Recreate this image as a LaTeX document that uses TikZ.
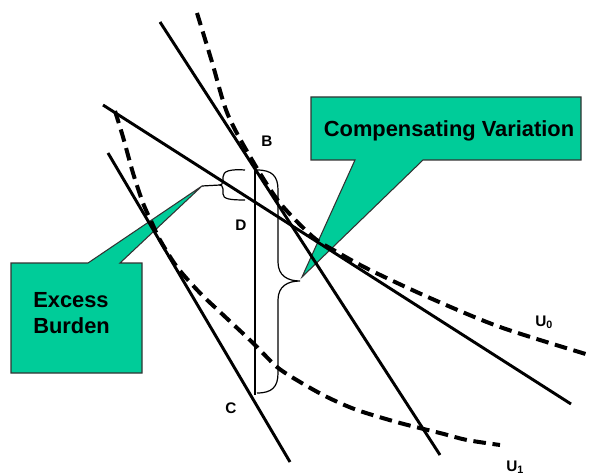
\documentclass[tikz,border=0pt]{standalone}
\usepackage{fontspec}
\setmainfont{Liberation Sans}
\usepackage{tikz}
\usepackage{xcolor}
\definecolor{calloutgreen}{RGB}{0,204,153}

\begin{document}
\begin{tikzpicture}[
        x=0.75pt, y=-0.75pt,
        budget/.style={line width=2.2pt},
        indiff/.style={line width=3pt, dash pattern=on 9.5pt off 5pt},
        thin line/.style={line width=0.9pt},
        bubble/.style={fill=calloutgreen, draw=black!80, line width=0.8pt},
        point label/.style={font=\fontsize{11.5}{13}\selectfont\bfseries},
        bubble text/.style={font=\fontsize{16.4}{19.5}\selectfont\bfseries},
    ]
        \useasboundingbox (0,0) rectangle (589,474);

        \coordinate (eb tip) at (202,186);
        \coordinate (cv tip) at (302,277);
        \coordinate (d tip) at (220,185);

        % callouts
        \draw[bubble] (11,263) -- (88,263) -- (eb tip) -- (120,263) -- (142,263) -- (142,373) -- (11,373) -- cycle;
        \draw[bubble] (311,97) -- (581,97) -- (581,160) -- (423,160) -- (cv tip) -- (355,160) -- (311,160) -- cycle;
        \node[bubble text, anchor=west, align=left, inner sep=0] (excess) at (33,313) {Excess\\Burden};
        \node[bubble text, anchor=base, inner sep=0] (cv) at (449,137) {Compensating Variation};

        % budget lines
        \draw[budget] (160,22) -- (440,455);
        \draw[budget] (103,105) -- (571,404);
        \draw[budget] (108,153) -- (290,462);

        % indifference curves
        \draw[indiff] plot[smooth] coordinates {(197,13) (212,62) (228,115) (255,165) (280,203) (313,237) (337,252) (370,270) (430,298) (500,327) (589,355)};
        \draw[indiff] plot[smooth] coordinates {(115,111) (123,137) (133,173) (143,203) (152,223) (160,240) (177,267) (200,293) (220,312) (253,343) (277,367) (300,382) (327,397) (357,410) (400,423) (440,433) (467,440) (500,445)};

        % B to C and the braces
        \draw[thin line] (255,168) -- (255,395);
        \draw[thin line] (257,170) .. controls (272,170) and (278,176) .. (278,190) -- (278,262)
            .. controls (278,276) and (288,281) .. (300,281) .. controls (288,281) and (278,286) .. (278,300)
            -- (278,373) .. controls (278,387) and (272,393) .. (257,393);
        \draw[thin line] (245,170) .. controls (230,169) and (223,171) .. (223,177) -- (223,181)
            .. controls (223,184) and (221,185) .. (d tip) .. controls (221,185) and (223,186) .. (223,189)
            -- (223,194) .. controls (223,199) and (230,200) .. (245,200);
        \draw[thin line] (eb tip) -- (d tip);

        \node[point label, anchor=base] (B) at (267,147) {B};
        \node[point label, anchor=base] (D) at (241,230) {D};
        \node[point label, anchor=base] (C) at (231,413) {C};
        \node[point label, anchor=base west, inner sep=0] (U0) at (535,326) {U\textsubscript{0}};
        \node[point label, anchor=base west, inner sep=0] (U1) at (506,471) {U\textsubscript{1}};
    \end{tikzpicture}
\end{document}
